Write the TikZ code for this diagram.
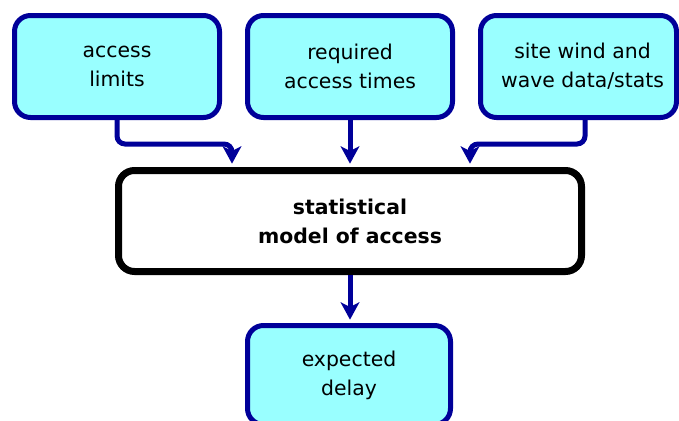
\documentclass[tikz,border=0pt]{standalone}
\usepackage{fontspec}
\setmainfont{DejaVu Sans}
\usetikzlibrary{arrows.meta}
\definecolor{boxfill}{HTML}{99FFFF}
\definecolor{boxblue}{HTML}{000099}
\tikzset{
  inbox/.style={draw=boxblue, fill=boxfill, line width=3.75pt, rounded corners=12pt,
    minimum width=205*0.75pt, minimum height=102*0.75pt, align=center,
    font=\fontsize{15.3pt}{21.75pt}\selectfont, inner sep=0pt},
  modelbox/.style={draw=black, fill=white, line width=5.25pt, rounded corners=12pt,
    minimum width=463*0.75pt, minimum height=101*0.75pt, align=center,
    font=\fontsize{15.3pt}{21.75pt}\selectfont\bfseries, inner sep=0pt},
  flow/.style={draw=boxblue, line width=3.75pt, rounded corners=6pt,
    -{Stealth[length=13pt,width=14pt,inset=3.5pt]}, shorten >=2.5pt}
}
\begin{document}
\begin{tikzpicture}[x=0.75pt, y=-0.75pt]
\useasboundingbox (0,0) rectangle (679,421);
\clip (0,0) rectangle (679,421);
\node[inbox] (lim) at (117,66.5) {access\\limits};
\node[inbox] (req) at (350,66.5) {required\\access times};
\node[inbox, minimum width=196*0.75pt] (wind) at (578.5,66.5) {\hspace*{6pt}site wind and\\\hspace*{6pt}wave data/stats};
\node[modelbox] (model) at (350,221) {statistical\\model of access};
\node[inbox, minimum width=203*0.75pt, minimum height=99*0.75pt] (delay) at (349,375) {expected\\delay};
\coordinate (limout) at (lim.south);
\coordinate (windout) at ([xshift=6.5*0.75pt]wind.south);
\draw[flow] (limout) -- ++(0,24) -| ([xshift=117*0.75pt]model.north west);
\draw[flow] (req.south) -- (req.south |- model.north);
\draw[flow] (windout) -- ++(0,24) -| ([xshift=-115*0.75pt]model.north east);
\draw[flow] (model.south) -- (model.south |- delay.north);
\end{tikzpicture}
\end{document}
